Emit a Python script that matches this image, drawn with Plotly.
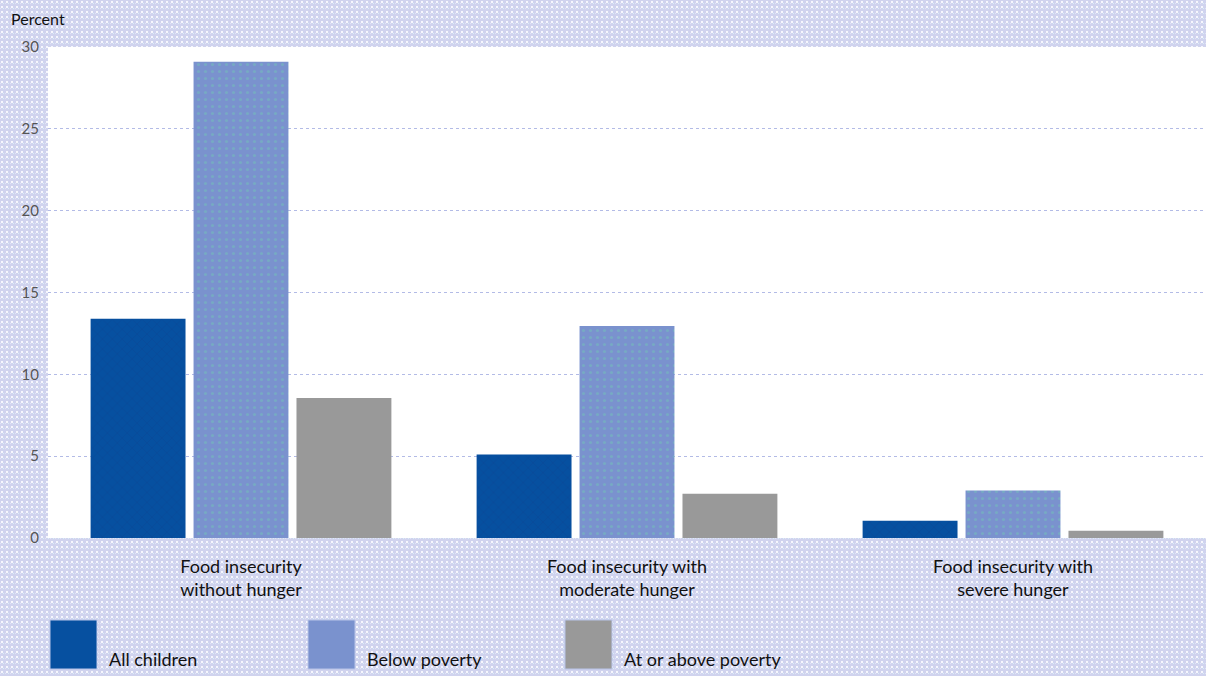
import plotly.graph_objects as go
import base64

categories = ["Food insecurity<br>without hunger", "Food insecurity with<br>moderate hunger", "Food insecurity with<br>severe hunger"]
series_names = ["All children", "Below poverty", "At or above poverty"]
all_children = [13.4, 5.1, 1.05]
below_poverty = [29.1, 12.95, 2.9]
above_poverty = [8.55, 2.7, 0.45]
y_ticks = [0, 5, 10, 15, 20, 25, 30]

colors = ["#0650a0", "#7a92ce", "#999999"]
pattern_fg = ["#123e8a", "#72c2b8", "#999999"]
pattern_shape = ["x", ".", ""]

W, H = 1206, 676
L, R, T, B = 48, 0, 47, 138

svg = f'''<svg xmlns="http://www.w3.org/2000/svg" width="{W}" height="{H}">
<defs><pattern id="p" width="5" height="5" patternUnits="userSpaceOnUse">
<rect width="5" height="5" fill="#d0d3ee"/>
<rect x="1" y="1" width="2" height="2" fill="#f6f7fd"/>
<rect x="3" y="3" width="1" height="1" fill="#d9eff8"/>
<rect x="0" y="3" width="1" height="1" fill="#e2e4f5"/>
</pattern></defs>
<rect width="{W}" height="{H}" fill="url(#p)"/></svg>'''
bg_uri = "data:image/svg+xml;base64," + base64.b64encode(svg.encode()).decode()

fig = go.Figure()
for name, vals, c, fg, sh in zip(series_names, [all_children, below_poverty, above_poverty], colors, pattern_fg, pattern_shape):
    fig.add_trace(go.Bar(
        x=categories, y=vals, name=name,
        marker=dict(color=c, line=dict(width=0),
                    pattern=dict(shape=sh, fgcolor=fg, bgcolor=c, size=7, solidity=0.15)),
        showlegend=False,
    ))

pw, ph = W - L - R, H - T - B

fig.update_layout(
    width=W, height=H,
    margin=dict(l=L, r=R, t=T, b=B, autoexpand=False),
    paper_bgcolor="#dadcf2",
    plot_bgcolor="white",
    barmode="group",
    bargap=0.2,
    bargroupgap=0.078,
    font=dict(family="Lato, Open Sans, sans-serif", color="#111111"),
    images=[dict(source=bg_uri, xref="paper", yref="paper",
                 x=-L / pw, y=1 + T / ph,
                 sizex=W / pw, sizey=H / ph,
                 sizing="stretch", layer="below", xanchor="left", yanchor="top")],
    xaxis=dict(showgrid=False, showline=False, ticks="", tickfont=dict(size=18, color="#111111"),
               ticklabelstandoff=16),
    yaxis=dict(range=[0, 30], tickvals=y_ticks, showgrid=True, gridcolor="#b3bbe6",
               griddash="dot", gridwidth=1, zeroline=False, showline=False, ticks="",
               tickfont=dict(size=15, color="#555555"), ticklabelstandoff=8),
)

# white plot area above the patterned page background
fig.add_shape(type="rect", xref="paper", yref="paper", x0=0, x1=1, y0=0, y1=1,
              fillcolor="white", line=dict(width=0), layer="below")

fig.add_annotation(text="Percent", xref="paper", yref="paper",
                   x=-(L - 9) / pw, y=1 + (T - 18) / ph,
                   xanchor="left", yanchor="middle", showarrow=False,
                   font=dict(size=16, color="#111111"))

legend_left = [50, 308, 565]
for name, c, lx in zip(series_names, colors, legend_left):
    fig.add_shape(type="rect", xref="paper", yref="paper",
                  x0=(lx - L) / pw, x1=(lx + 47 - L) / pw,
                  y0=(H - B - 620) / ph, y1=(H - B - 669) / ph,
                  fillcolor=c, line=dict(width=1, color="#b8c4e8"))
    fig.add_annotation(text=name, xref="paper", yref="paper",
                       x=(lx + 57 - L) / pw, y=(H - B - 672) / ph,
                       xanchor="left", yanchor="bottom", showarrow=False,
                       font=dict(size=18, color="#111111"))

fig.write_html("out.html")
